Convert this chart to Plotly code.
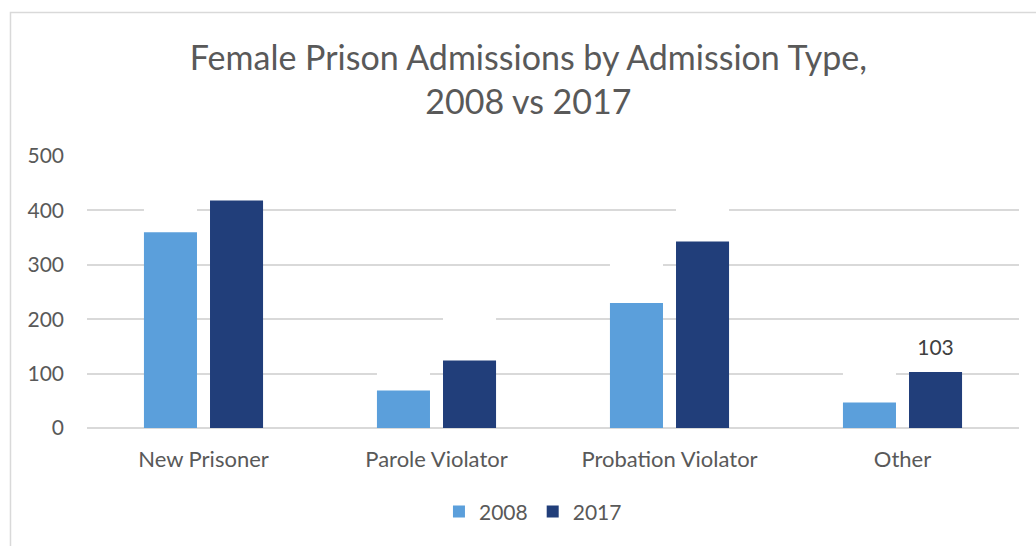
import plotly.graph_objects as go

categories = ["New Prisoner", "Parole Violator", "Probation Violator", "Other"]
admissions_2008 = [360, 69, 230, 47]
admissions_2017 = [418, 124, 343, 103]
y_ticks = [0, 100, 200, 300, 400, 500]

# data-label boxes sit just above each bar (white fill hides the gridline behind)
label_gap = 4
label_height = 85
labels_2017 = ["", "", "", str(admissions_2017[3])]

FONT = "Lato"
TEXT = "#595959"

fig = go.Figure()

fig.add_trace(go.Bar(
    name="2008", x=categories, y=admissions_2008, offsetgroup="a",
    marker=dict(color="#5B9FDB", line=dict(width=0)), hoverinfo="skip",
))
fig.add_trace(go.Bar(
    name="2017", x=categories, y=admissions_2017, offsetgroup="b",
    marker=dict(color="#213E7A", line=dict(width=0)), hoverinfo="skip",
))
fig.add_trace(go.Bar(
    x=categories, y=[label_height] * 4,
    base=[v + label_gap for v in admissions_2008], offsetgroup="a",
    marker=dict(color="white", line=dict(width=0)), showlegend=False, hoverinfo="skip",
))
fig.add_trace(go.Bar(
    x=categories, y=[label_height] * 4,
    base=[v + label_gap for v in admissions_2017], offsetgroup="b",
    marker=dict(color="white", line=dict(width=0)), showlegend=False, hoverinfo="skip",
    text=labels_2017, textposition="inside", insidetextanchor="middle",
    textangle=0, constraintext="none",
    textfont=dict(family=FONT, size=21, color="#404040"),
))

fig.update_layout(
    width=1036, height=546, autosize=False,
    margin=dict(l=87, r=17, t=156, b=118),
    paper_bgcolor="white", plot_bgcolor="white",
    barmode="group", bargap=0.433, bargroupgap=0.197,
    font=dict(family=FONT, color=TEXT),
    title=dict(
        text="Female Prison Admissions by Admission Type,<br>2008 vs 2017",
        x=0.510, xanchor="center", y=0.872, yanchor="middle",
        xref="container", yref="container",
        font=dict(family=FONT, size=34, color=TEXT),
    ),
    xaxis=dict(
        showgrid=False, showline=False, ticks="",
        tickfont=dict(family=FONT, size=22, color=TEXT),
        ticklabelstandoff=16,
    ),
    yaxis=dict(
        range=[0, 500], tickvals=y_ticks, showgrid=True,
        gridcolor="#D9D9D9", gridwidth=1.5, zeroline=True,
        zerolinecolor="#D9D9D9", zerolinewidth=1.5, showline=False, ticks="",
        tickfont=dict(family=FONT, size=21, color=TEXT),
        ticklabelstandoff=22,
    ),
    legend=dict(
        orientation="h", x=0.4785, xanchor="center", y=-0.308, yanchor="middle",
        font=dict(family=FONT, size=21, color=TEXT),
        itemwidth=30, traceorder="normal",
    ),
    shapes=[dict(
        type="rect", xref="paper", yref="paper",
        x0=-0.0821, x1=1.2, y0=-0.6, y1=1.528,
        line=dict(color="#D9D9D9", width=1.5), fillcolor="rgba(0,0,0,0)",
        layer="below",
    )],
)

fig.write_html("out.html")
